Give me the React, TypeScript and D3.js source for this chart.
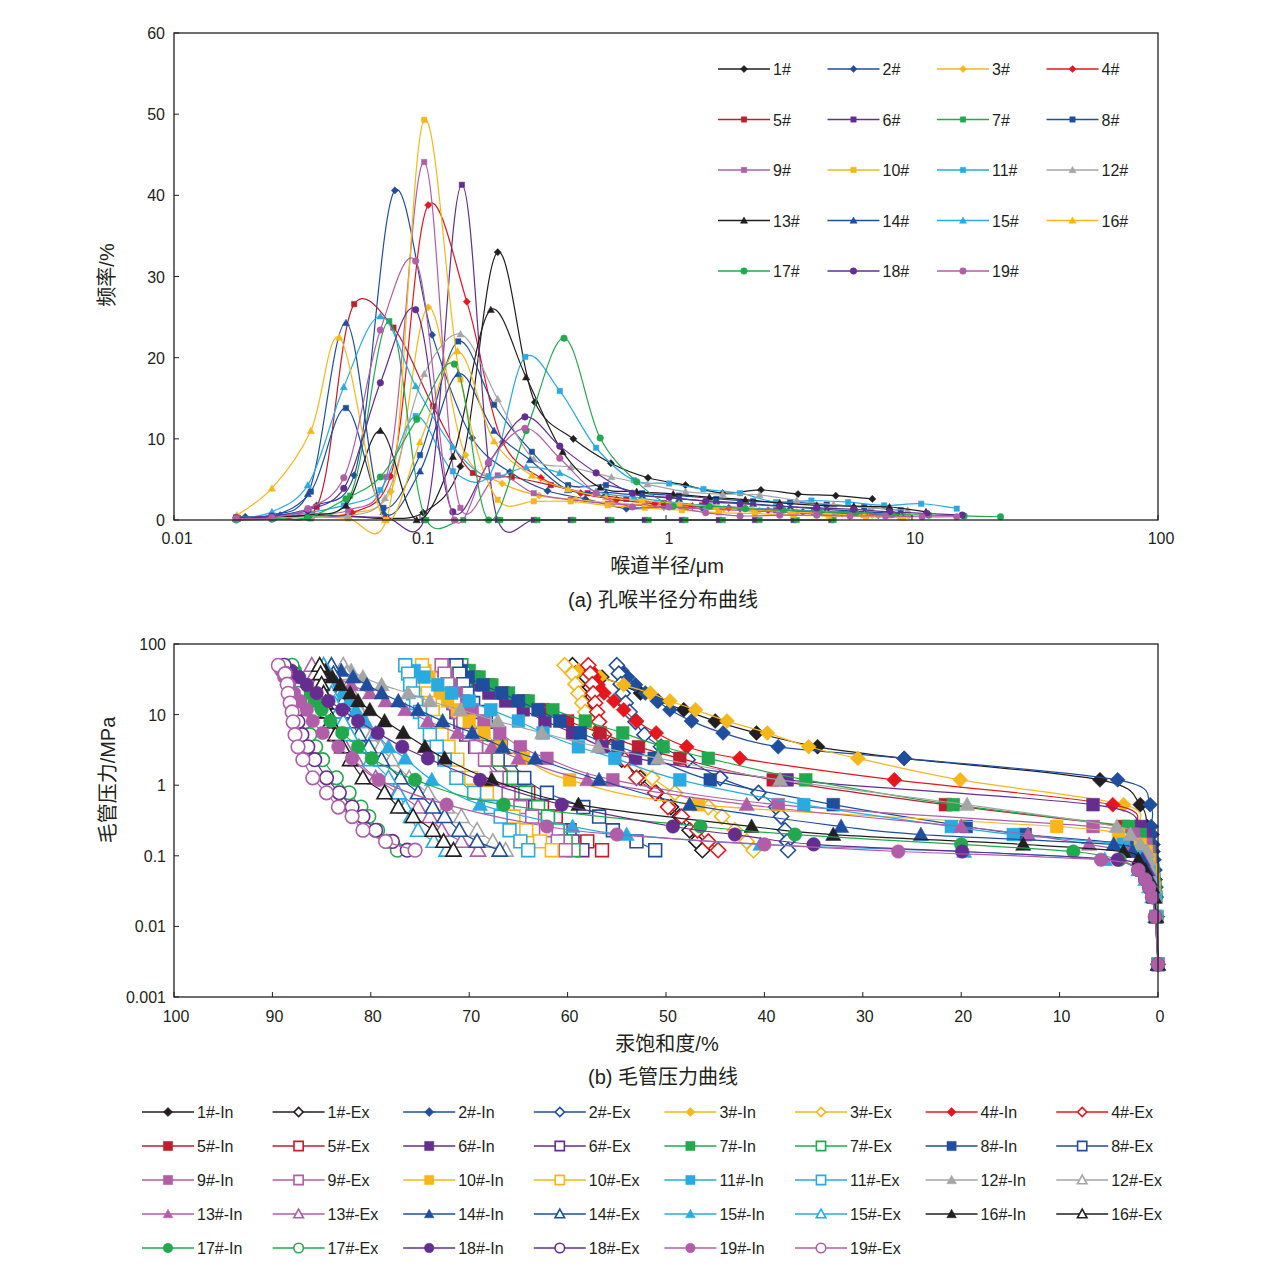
import React, { useRef, useEffect } from "react";
import * as d3 from "d3";

const FONT = "'Liberation Sans', Arial, 'Noto Sans CJK SC', sans-serif";
const INK = "#231f20";

const BLACK = "#231f20";
const BLUE = "#1f4e9e";
const YELLOW = "#f6b719";
const RED = "#e5161c";
const DARKRED = "#be1e2d";
const PURPLE = "#662d91";
const GREEN = "#22a94e";
const PINK = "#b05ea7";
const CYAN = "#29abe2";
const GREY = "#a5a5a5";

const sampleNames = ["1#", "2#", "3#", "4#", "5#", "6#", "7#", "8#", "9#", "10#", "11#", "12#", "13#", "14#", "15#", "16#", "17#", "18#", "19#"];
const topColors = [BLACK, BLUE, YELLOW, RED, DARKRED, PURPLE, GREEN, BLUE, PINK, YELLOW, CYAN, GREY, BLACK, BLUE, CYAN, YELLOW, GREEN, PURPLE, PINK];
const bottomColors = [BLACK, BLUE, YELLOW, RED, DARKRED, PURPLE, GREEN, BLUE, PINK, YELLOW, CYAN, GREY, PINK, BLUE, CYAN, BLACK, GREEN, PURPLE, PINK];
const markers = ["diamond", "diamond", "diamond", "diamond", "square", "square", "square", "square", "square", "square", "square", "triangle", "triangle", "triangle", "triangle", "triangle", "circle", "circle", "circle"];

// (a) pore throat radius (µm) vs frequency (%)
const dist1 = [[0.0179, 0.3], [0.0253, 0.3], [0.036, 0.6], [0.051, 0.5], [0.072, 0.2], [0.103, 0.9], [0.146, 6.6], [0.207, 33], [0.293, 14.5], [0.42, 10], [0.597, 7], [0.845, 5.2], [1.2, 4.3], [1.7, 3.3], [2.43, 3.7], [3.44, 3.2], [4.9, 3.0], [6.9, 2.6]];
const dist2 = [[0.0195, 0.4], [0.027, 0.6], [0.038, 1.8], [0.054, 5.5], [0.079, 40.6], [0.112, 22.8], [0.163, 10.1], [0.232, 5.9], [0.33, 3.6], [0.47, 2.6], [0.69, 1.4], [0.98, 1.6], [1.4, 1.5], [2.0, 1.4], [2.9, 1.3], [4.1, 1.1], [5.8, 1.0], [8.3, 0.8]];
const dist3 = [[0.0179, 0.2], [0.025, 0.3], [0.036, 0.5], [0.051, 0.8], [0.076, 3.5], [0.108, 26.2], [0.153, 8], [0.216, 4.5], [0.305, 3.0], [0.43, 2.5], [0.61, 2.1], [0.86, 1.8], [1.22, 1.6], [1.72, 1.4], [2.4, 1.2], [3.4, 1.0], [4.9, 0.8], [6.9, 0.6], [9.7, 0.5]];
const dist4 = [[0.0185, 0.2], [0.026, 0.4], [0.037, 0.6], [0.053, 0.9], [0.076, 5.4], [0.108, 38.8], [0.155, 26.9], [0.217, 9.6], [0.31, 5.2], [0.45, 3.3], [0.63, 2.5], [0.9, 2.0], [1.28, 1.7], [1.8, 1.5], [2.6, 1.2], [3.6, 1.0], [5.2, 0.8], [7.3, 0.6]];
const dist5 = [[0.0179, 0.2], [0.0253, 0.4], [0.038, 1.6], [0.054, 26.6], [0.078, 23.7], [0.113, 14], [0.164, 5.8], [0.236, 5.3], [0.34, 4.3], [0.48, 3.3], [0.69, 2.6], [0.98, 2.1], [1.4, 1.8], [2.0, 1.5], [2.8, 1.2], [4.0, 1.0], [5.7, 0.8], [8.1, 0.6]];
const dist6 = [[0.0179, 0.2], [0.0253, 0.3], [0.036, 0.5], [0.051, 0.4], [0.073, 0.3], [0.104, 0], [0.148, 41.3], [0.207, 0], [0.29, 0], [0.41, 0], [0.58, 0], [0.82, 0], [1.16, 0], [1.64, 0], [2.3, 0], [3.3, 0], [4.7, 0]];
const dist7 = [[0.0179, 0.1], [0.0253, 0.2], [0.036, 0.2], [0.052, 3], [0.075, 24.5], [0.106, 0], [0.15, 0], [0.212, 0], [0.3, 0], [0.42, 0], [0.6, 0], [0.85, 0], [1.2, 0], [1.7, 0], [2.4, 0], [3.4, 0], [4.8, 0]];
const dist8 = [[0.0179, 0.3], [0.0253, 0.5], [0.036, 3.5], [0.05, 13.8], [0.071, 1.5], [0.1, 8], [0.143, 22], [0.2, 14.2], [0.285, 8.4], [0.4, 4.3], [0.57, 4.3], [0.8, 3.3], [1.13, 3.0], [1.6, 2.6], [2.26, 2.3], [3.2, 2.2], [4.5, 1.9], [6.4, 1.6], [9.0, 1.2]];
const dist9 = [[0.0179, 0.3], [0.0253, 0.4], [0.036, 0.8], [0.051, 1.2], [0.073, 5.3], [0.104, 44.1], [0.146, 1.5], [0.207, 5.5], [0.29, 3.3], [0.41, 2.5], [0.58, 2.0], [0.82, 1.8], [1.16, 1.5], [1.64, 1.3], [2.3, 1.1], [3.3, 0.9], [4.6, 0.7], [6.5, 0.6], [9.2, 0.5]];
const dist10 = [[0.0179, 0.2], [0.0253, 0.3], [0.036, 0.4], [0.051, 0.2], [0.073, 0], [0.104, 49.3], [0.146, 17.3], [0.207, 2.5], [0.29, 2.3], [0.41, 2.3], [0.58, 1.8], [0.82, 1.5], [1.16, 1.2], [1.64, 0.9], [2.3, 0.8], [3.3, 0.6], [4.6, 0.5], [6.5, 0.4], [9.2, 0.3]];
const dist11 = [[0.0179, 0.3], [0.0253, 0.5], [0.035, 0.9], [0.049, 1.8], [0.069, 3.7], [0.096, 12.8], [0.136, 6], [0.19, 5.4], [0.268, 20.1], [0.37, 15.9], [0.52, 8.9], [0.74, 4.9], [1.03, 4.5], [1.42, 3.8], [2.0, 3.3], [2.8, 2.2], [3.9, 2.4], [5.5, 2.2], [7.7, 1.8], [10.9, 2.0], [15.2, 1.4]];
const dist12 = [[0.0179, 0.3], [0.0253, 0.3], [0.036, 0.4], [0.051, 0.5], [0.072, 2.7], [0.104, 18], [0.146, 22.9], [0.207, 14.9], [0.29, 7.5], [0.41, 6.5], [0.6, 5.3], [0.84, 4.4], [1.2, 3.5], [1.7, 3.2], [2.4, 3.1], [3.4, 2.4], [4.8, 1.9], [6.8, 1.5], [9.6, 1.2]];
const dist13 = [[0.0179, 0.2], [0.025, 0.4], [0.035, 0.6], [0.05, 1.8], [0.069, 11], [0.097, 0], [0.136, 7.8], [0.194, 25.9], [0.27, 17.6], [0.38, 8.4], [0.54, 4], [0.76, 3.5], [1.07, 3.2], [1.5, 2.8], [2.1, 2.5], [2.9, 2.1], [4.1, 1.8], [5.8, 1.7], [8.1, 1.6], [11.4, 1.0]];
const dist14 = [[0.0179, 0.2], [0.025, 0.6], [0.035, 3.2], [0.05, 24.3], [0.071, 1.0], [0.1, 6.0], [0.143, 18], [0.2, 11], [0.28, 7.4], [0.4, 3.7], [0.57, 3.4], [0.8, 3.0], [1.13, 2.6], [1.6, 2.3], [2.26, 2.0], [3.2, 1.6], [4.5, 1.3], [6.4, 1.0], [9.0, 0.8]];
const dist15 = [[0.0179, 0.2], [0.025, 1], [0.035, 4.3], [0.049, 16.4], [0.069, 25.1], [0.096, 16.5], [0.136, 9], [0.19, 5.3], [0.27, 6.5], [0.37, 5.8], [0.52, 3.5], [0.74, 2.8], [1.04, 2.2], [1.46, 1.8], [2.1, 1.5], [2.9, 1.3], [4.1, 1.1], [5.8, 0.9], [8.2, 0.7]];
const dist16 = [[0.018, 0.6], [0.025, 3.9], [0.036, 11], [0.047, 22.5], [0.072, 0], [0.1, 9.6], [0.142, 20.8], [0.2, 9.7], [0.285, 5.5], [0.4, 3.8], [0.57, 2.8], [0.8, 2.4], [1.13, 2.0], [1.6, 1.6], [2.26, 1.3], [3.2, 1.0], [4.5, 0.8], [6.4, 0.6], [9, 0.4]];
const dist17 = [[0.0179, 0], [0.025, 0.1], [0.035, 0.3], [0.05, 2.6], [0.069, 5.3], [0.097, 12.4], [0.138, 19.2], [0.19, 0], [0.27, 11], [0.385, 22.4], [0.54, 10.1], [0.76, 4.7], [1.07, 1.7], [1.5, 1.7], [2.1, 1.4], [3.0, 1.2], [4.2, 1.0], [5.9, 0.9], [8.3, 0.7], [11.7, 0.6], [16.3, 0.5], [22.9, 0.4]];
const dist18 = [[0.0179, 0.3], [0.025, 0.5], [0.035, 1.2], [0.049, 3.9], [0.069, 16.9], [0.096, 25.9], [0.136, 1], [0.19, 7], [0.267, 12.7], [0.37, 9.1], [0.52, 5.8], [0.73, 3.3], [1.03, 2.8], [1.45, 2.3], [2.0, 2.0], [2.9, 1.7], [4.1, 1.5], [5.8, 1.3], [8.1, 1.0], [11.5, 0.8], [16, 0.6]];
const dist19 = [[0.0179, 0.2], [0.025, 0.3], [0.035, 1.4], [0.049, 5.2], [0.069, 23.4], [0.096, 31.9], [0.138, 0], [0.19, 7.1], [0.267, 11.3], [0.37, 7.6], [0.52, 3.3], [0.73, 1.6], [1.03, 1.6], [1.45, 0.9], [2.0, 0.5], [2.9, 0.6], [4.1, 0.6], [5.6, 0.5], [7.8, 0.5], [11, 0.4], [15.2, 0.4]];
const distSeries = [dist1, dist2, dist3, dist4, dist5, dist6, dist7, dist8, dist9, dist10, dist11, dist12, dist13, dist14, dist15, dist16, dist17, dist18, dist19];

// (b) capillary pressure (MPa) vs mercury saturation (%)
const pressureIn = [0.0029, 0.0137, 0.026, 0.036, 0.046, 0.063, 0.088, 0.115, 0.145, 0.2, 0.26, 0.53, 1.19, 2.4, 3.5, 5.5, 8.1, 11.7, 15.6, 20.2, 26.4, 34, 42, 50];
const pressureEx = [50, 38, 27, 20, 14.6, 10.9, 7.9, 5.2, 3.5, 2.3, 1.27, 0.78, 0.49, 0.36, 0.23, 0.16, 0.12];

const in1 = [0, 0.1, 0.2, 0.3, 0.3, 0.4, 0.5, 0.6, 0.7, 0.9, 1.1, 1.8, 5.9, 25.8, 34.6, 40.8, 45, 48.2, 50.8, 52.6, 54.5, 56.5, 58, 59.5];
const in2 = [0, 0.1, 0.2, 0.2, 0.3, 0.3, 0.4, 0.5, 0.5, 0.6, 0.7, 0.8, 4.1, 25.8, 38.6, 44.2, 47.4, 49.6, 50.9, 52.1, 53.1, 53.9, 54.5, 55];
const in3 = [0, 0.2, 0.4, 0.5, 0.6, 0.8, 1.0, 1.2, 1.4, 1.7, 2.0, 3.5, 20.1, 30.5, 35.5, 39.7, 43.8, 47, 49.6, 51.6, 54.3, 56.7, 58.9, 60.3];
const in4 = [0, 0.2, 0.4, 0.5, 0.6, 0.8, 1.0, 1.2, 1.5, 1.8, 2.2, 4.6, 26.8, 42.5, 47.9, 51, 53, 54.3, 55.3, 56.3, 56.9, 57.3, 57.6, 57.9];
const in5 = [0, 0.2, 0.4, 0.6, 0.7, 0.9, 1.1, 1.3, 1.6, 2.2, 3.5, 21.6, 39.1, 48.6, 52.8, 56.7, 60, 62.5, 64.5, 66.5, 68, 69.5, 70.5, 71.5];
const in6 = [0, 0.2, 0.3, 0.4, 0.5, 0.6, 0.7, 0.8, 1.0, 1.3, 1.8, 6.6, 37.7, 53.1, 56.5, 59.5, 62.3, 64.5, 66.3, 68, 69.5, 70.8, 71.8, 72.5];
const in7 = [0, 0.1, 0.2, 0.3, 0.4, 0.5, 0.7, 0.9, 1.2, 1.8, 3.0, 20.8, 35.8, 45.7, 50.3, 54.4, 58.2, 61.5, 64, 66, 67.7, 69, 70, 70.8];
const in8 = [0, 0.2, 0.3, 0.4, 0.5, 0.7, 0.9, 1.2, 2.5, 13.5, 19.5, 33, 45.5, 51.2, 54.9, 58.7, 60.8, 63, 65, 66.7, 68.6, 70.1, 70.8, 71.3];
const in9 = [0, 0.2, 0.3, 0.4, 0.5, 0.6, 0.8, 1.0, 1.3, 2.5, 6.6, 38.6, 55.4, 62.1, 64.8, 66.9, 68.5, 69.7, 70.6, 71.3, 71.9, 72.3, 72.6, 72.8];
const in10 = [0, 0.2, 0.3, 0.4, 0.5, 0.7, 0.9, 1.2, 1.8, 4, 10.3, 46.7, 59.8, 64.5, 66.8, 68.5, 70, 71.2, 72.2, 73, 73.6, 74.1, 74.5, 74.8];
const in11 = [0, 0.2, 0.3, 0.5, 0.7, 0.9, 1.2, 1.8, 3.5, 14.7, 21, 36, 48.6, 55.2, 58.9, 62.5, 65, 67.8, 70, 71.8, 73.2, 74.6, 75.6, 76.5];
const in12 = [0, 0.2, 0.3, 0.4, 0.5, 0.7, 0.9, 1.1, 1.8, 2.8, 4.2, 19.4, 38.4, 50.8, 56.9, 62.6, 67.1, 70.9, 74, 76.2, 78.9, 80.8, 82, 82.8];
const in13 = [0, 0.2, 0.4, 0.6, 0.8, 1.0, 1.5, 3, 7, 13.2, 20, 41.8, 58, 65, 67.7, 71.2, 74.2, 76.5, 78.5, 80.1, 82, 83.5, 85, 86];
const in14 = [0, 0.2, 0.4, 0.6, 0.8, 1.1, 1.6, 2.6, 4.5, 24.1, 32.2, 47.6, 56.8, 63.3, 66.6, 69.7, 72.7, 75.2, 77.2, 78.9, 80.4, 81.8, 83, 84];
const in15 = [0, 0.3, 0.6, 0.9, 1.3, 2.0, 5.4, 19.7, 40.4, 54, 59.5, 68.9, 73.8, 76.5, 78.2, 79.5, 80.6, 81.5, 82.2, 82.9, 83.5, 84, 84.4, 84.8];
const in16 = [0, 0.2, 0.4, 0.6, 0.9, 1.3, 2.0, 3.5, 13.7, 33, 41.3, 58.9, 67.7, 72.5, 74.5, 76.7, 78.6, 80.1, 81.3, 82.1, 83.1, 83.9, 84.6, 85.2];
const in17 = [0, 0.3, 0.6, 0.9, 1.3, 2.0, 3.9, 8.6, 20, 36.9, 46.5, 66.5, 75.5, 79.9, 81.3, 82.9, 84.1, 85, 85.7, 86.3, 86.8, 87.3, 87.7, 88];
const in18 = [0, 0.3, 0.6, 0.9, 1.3, 2.0, 4.1, 19.9, 35, 43, 49.3, 60.6, 68.9, 74.2, 76.8, 79.3, 81.3, 82.9, 84.3, 85.5, 86.5, 87.3, 88.1, 88.8];
const in19 = [0, 0.3, 0.6, 0.9, 1.3, 2.0, 5.8, 26.4, 40, 55, 62.1, 72.3, 79.2, 81.9, 83.3, 84.9, 85.9, 86.5, 87.2, 87.8, 88.3, 88.8, 89.1, 89.4];

const ex1 = [59.5, 59.2, 58.9, 58.6, 58.3, 58, 57.5, 56.7, 55.6, 54.5, 52.6, 51, 49.5, 48.6, 47.6, 46.9, 46.3];
const ex2 = [55, 54.8, 54.6, 54.4, 54.1, 53.7, 53.1, 52.2, 50.5, 47.8, 44.5, 40.6, 38.8, 38.3, 37.9, 37.7, 37.6];
const ex3 = [60.3, 59.5, 59.2, 58.9, 58.5, 58.2, 57.6, 56.6, 55.2, 53.8, 51.4, 49.1, 45.7, 44.3, 43, 41.8, 41.1];
const ex4 = [57.9, 57.7, 57.5, 57.4, 57.2, 57.0, 56.8, 56.3, 55.4, 54.2, 53.0, 51.1, 49.8, 48.4, 46.8, 45.7, 44.7];
const ex5 = [71.5, 71.3, 71.1, 70.9, 70.6, 70.3, 69.9, 69.3, 68.5, 67.3, 65.5, 64, 62.6, 61.2, 59.8, 58, 56.5];
const ex6 = [72.5, 72.3, 72.1, 71.9, 71.6, 71.3, 70.9, 70.3, 69.4, 68.3, 66.5, 64.8, 63.3, 62, 60.7, 59.5, 58.5];
const ex7 = [70.8, 70.6, 70.4, 70.2, 70, 69.7, 69.3, 68.8, 68, 67, 65.5, 64.3, 63, 62, 61, 60.2, 59.4];
const ex8 = [71.3, 71, 70.6, 70.2, 69.6, 69, 68.3, 67.5, 66.8, 65.8, 64.4, 62.1, 58.4, 56.8, 55.4, 53, 51.1];
const ex9 = [72.8, 72.5, 72.2, 71.9, 71.5, 71.1, 70.6, 70, 69.3, 68.4, 67.2, 66, 64.8, 63.6, 62.2, 61, 60.2];
const ex10 = [74.8, 74.6, 74.4, 74.2, 74, 73.7, 73.3, 72.8, 72.1, 71.2, 69.8, 68.2, 66.6, 65.5, 64.2, 62.8, 61.6];
const ex11 = [76.5, 76.2, 76, 75.7, 75.4, 75, 74.5, 74, 73.3, 72.5, 71.3, 69.5, 67.8, 66.8, 65.9, 64.8, 64];
const ex12 = [82.8, 82.5, 82.2, 81.9, 81.5, 81.1, 80.6, 79.9, 79, 77.9, 76.1, 74.2, 72.3, 70.8, 69.2, 67.6, 66.3];
const ex13 = [86, 85.7, 85.5, 85.2, 84.9, 84.6, 84.1, 83.5, 82.6, 81.5, 79.5, 77.3, 75.2, 74, 72.8, 70.8, 69.1];
const ex14 = [84, 83.8, 83.5, 83.2, 82.9, 82.5, 82, 81.2, 80.2, 78.9, 77, 75.2, 73.7, 72.5, 71, 69.2, 66.9];
const ex15 = [84.8, 84.6, 84.3, 84, 83.7, 83.3, 82.8, 82.1, 81.2, 80, 78.2, 77.2, 76.5, 75.9, 75.2, 73.6, 72.3];
const ex16 = [85.2, 85.1, 85, 84.8, 84.6, 84.4, 84.1, 83.6, 82.9, 82.1, 80.8, 78.6, 77.2, 75.7, 73.7, 72.6, 71.6];
const ex17 = [88, 87.8, 87.6, 87.4, 87.2, 87, 86.7, 86.2, 85.6, 84.9, 83.5, 82.2, 81, 80.2, 79.3, 78.4, 77.3];
const ex18 = [88.8, 88.6, 88.4, 88.2, 88, 87.7, 87.4, 87, 86.4, 85.7, 84.5, 83.2, 81.9, 80.8, 79.5, 77.8, 76.3];
const ex19 = [89.4, 88.7, 88.5, 88.4, 88.2, 88, 87.9, 87.7, 87.4, 86.9, 85.9, 84.5, 83.3, 81.9, 80.8, 78.5, 75.5];

const inSeries = [in1, in2, in3, in4, in5, in6, in7, in8, in9, in10, in11, in12, in13, in14, in15, in16, in17, in18, in19];
const exSeries = [ex1, ex2, ex3, ex4, ex5, ex6, ex7, ex8, ex9, ex10, ex11, ex12, ex13, ex14, ex15, ex16, ex17, ex18, ex19];

const topXTicks = [0.01, 0.1, 1, 10, 100];
const topYTicks = [0, 10, 20, 30, 40, 50, 60];
const bottomXTicks = [100, 90, 80, 70, 60, 50, 40, 30, 20, 10, 0];
const bottomYTicks = [0.001, 0.01, 0.1, 1, 10, 100];

const markerPath = (type, s) => {
  if (type === "diamond") return `M0,${-s}L${s},0L0,${s}L${-s},0Z`;
  if (type === "square") return `M${-s},${-s}H${s}V${s}H${-s}Z`;
  if (type === "triangle") return `M0,${-s}L${s},${s * 0.78}L${-s},${s * 0.78}Z`;
  return `M${-s},0A${s},${s} 0 1,0 ${s},0A${s},${s} 0 1,0 ${-s},0Z`;
};

// half sizes of the markers
const topSize = { diamond: 3.6, square: 2.7, triangle: 3.6, circle: 3.3 };
const bottomSize = { diamond: 7.5, square: 6.4, triangle: 7.6, circle: 6.8 };
const legendSize = { diamond: 4.6, square: 4.6, triangle: 4.8, circle: 4.8 };

const addMarker = (g, type, x, y, s, color, open) => {
  g.append("path")
    .attr("d", markerPath(type, s))
    .attr("transform", `translate(${x},${y})`)
    .attr("fill", open ? "#fff" : color)
    .attr("stroke", color)
    .attr("stroke-width", open ? 1.6 : 0.5);
};

const addText = (g, x, y, str, size, anchor = "middle") =>
  g.append("text")
    .attr("x", x)
    .attr("y", y)
    .attr("text-anchor", anchor)
    .attr("font-family", FONT)
    .attr("font-size", size)
    .attr("fill", INK)
    .text(str);

const drawTop = (svg) => {
  const left = 174, right = 1158, top = 33, bottom = 520;
  const x = d3.scaleLog().domain([0.01, 100]).range([left, right]);
  const y = d3.scaleLinear().domain([0, 60]).range([bottom, top]);
  const g = svg.append("g");

  // between uniform and centripetal: round peaks, small dips under zero
  const line = d3.line()
    .x((d) => x(d[0]))
    .y((d) => y(d[1]))
    .curve(d3.curveCatmullRom.alpha(0.2));

  distSeries.forEach((data, i) => {
    g.append("path")
      .attr("d", line(data))
      .attr("fill", "none")
      .attr("stroke", topColors[i])
      .attr("stroke-width", 1.2);
    data.forEach((d) => addMarker(g, markers[i], x(d[0]), y(d[1]), topSize[markers[i]], topColors[i], false));
  });

  g.append("rect")
    .attr("x", left).attr("y", top)
    .attr("width", right - left).attr("height", bottom - top)
    .attr("fill", "none").attr("stroke", INK).attr("stroke-width", 1.3);

  topYTicks.forEach((t) => {
    g.append("line").attr("x1", left).attr("x2", left + 5).attr("y1", y(t)).attr("y2", y(t)).attr("stroke", INK);
    addText(g, left - 9, y(t) + 6, String(t), 16, "end");
  });
  topXTicks.forEach((t) => {
    g.append("line").attr("x1", x(t)).attr("x2", x(t)).attr("y1", bottom).attr("y2", bottom - 5).attr("stroke", INK);
    addText(g, x(t) + 3, bottom + 24, String(t), 16);
  });

  addText(g, 667, 573, "喉道半径/μm", 20);
  addText(g, 663, 607, "(a) 孔喉半径分布曲线", 20);
  addText(g, 0, 0, "频率/%", 20).attr("transform", "translate(114,275) rotate(-90)");

  // legend, 4 columns
  sampleNames.forEach((name, i) => {
    const lx = 718 + (i % 4) * 109.5;
    const ly = 69 + Math.floor(i / 4) * 50.5;
    g.append("line").attr("x1", lx).attr("x2", lx + 52).attr("y1", ly).attr("y2", ly)
      .attr("stroke", topColors[i]).attr("stroke-width", 1.3);
    addMarker(g, markers[i], lx + 26, ly, topSize[markers[i]], topColors[i], false);
    addText(g, lx + 55, ly + 6, name, 16, "start");
  });
};

const drawBottom = (svg) => {
  const left = 174, right = 1158, top = 644, bottom = 997;
  const x = d3.scaleLinear().domain([100, 0]).range([left, right]);
  const y = d3.scaleLog().domain([0.001, 100]).range([bottom, top]);
  const g = svg.append("g");

  const line = d3.line()
    .x((d) => x(d[0]))
    .y((d) => y(d[1]))
    .curve(d3.curveCardinal.tension(0));

  sampleNames.forEach((name, i) => {
    const color = bottomColors[i];
    const type = markers[i];
    const inPts = inSeries[i].map((s, k) => [s, pressureIn[k]]);
    const exPts = exSeries[i].map((s, k) => [s, pressureEx[k]]);
    [[inPts, false], [exPts, true]].forEach(([pts, open]) => {
      g.append("path")
        .attr("d", line(pts))
        .attr("fill", "none")
        .attr("stroke", color)
        .attr("stroke-width", 1.2);
      pts.forEach((d) => addMarker(g, type, x(d[0]), y(d[1]), bottomSize[type], color, open));
    });
  });

  g.append("rect")
    .attr("x", left).attr("y", top)
    .attr("width", right - left).attr("height", bottom - top)
    .attr("fill", "none").attr("stroke", INK).attr("stroke-width", 1.3);

  bottomYTicks.forEach((t) => {
    g.append("line").attr("x1", left).attr("x2", left + 5).attr("y1", y(t)).attr("y2", y(t)).attr("stroke", INK);
    addText(g, left - 8, y(t) + 6, String(t), 16, "end");
  });
  bottomXTicks.forEach((t) => {
    g.append("line").attr("x1", x(t)).attr("x2", x(t)).attr("y1", bottom).attr("y2", bottom - 5).attr("stroke", INK);
    addText(g, x(t) + 2, bottom + 25, String(t), 16);
  });

  addText(g, 667, 1051, "汞饱和度/%", 20);
  addText(g, 663, 1084, "(b) 毛管压力曲线", 20);
  addText(g, 0, 0, "毛管压力/MPa", 20).attr("transform", "translate(115,780) rotate(-90)");

  // legend, 8 columns: In / Ex pairs
  sampleNames.forEach((name, i) => {
    [false, true].forEach((open, j) => {
      const idx = i * 2 + j;
      const lx = 142 + (idx % 8) * 130.6;
      const ly = 1112 + Math.floor(idx / 8) * 34;
      g.append("line").attr("x1", lx).attr("x2", lx + 52).attr("y1", ly).attr("y2", ly)
        .attr("stroke", bottomColors[i]).attr("stroke-width", 1.3);
      addMarker(g, markers[i], lx + 26, ly, legendSize[markers[i]], bottomColors[i], open);
      addText(g, lx + 55, ly + 6, `${name}-${open ? "Ex" : "In"}`, 16, "start");
    });
  });
};

const App = () => {
  const svgRef = useRef(null);

  useEffect(() => {
    const svg = d3.select(svgRef.current);
    svg.selectAll("*").remove();
    svg.append("rect").attr("width", 1268).attr("height", 1272).attr("fill", "#fff");
    drawTop(svg);
    drawBottom(svg);
  }, []);

  return (
    <svg
      ref={svgRef}
      width={1268}
      height={1272}
      style={{ position: "absolute", left: 0, top: 0 }}
    />
  );
};

export default App;
